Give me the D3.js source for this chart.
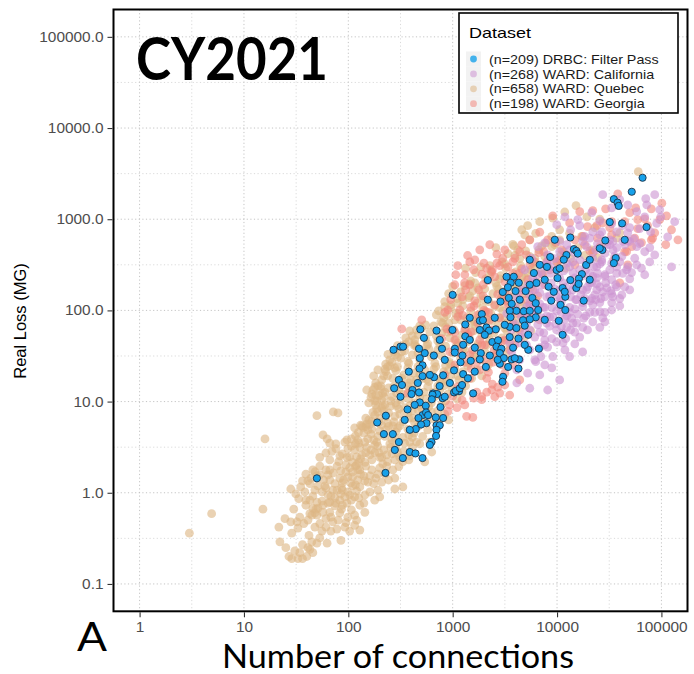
<!DOCTYPE html>
<html>
<head>
<meta charset="utf-8">
<script src="https://cdn.jsdelivr.net/npm/d3@7"></script>
<style>
  body { margin: 0; background: #fff; }
  svg { display: block; }
</style>
</head>
<body>
<svg id="chart" width="694" height="674"></svg>
<script>
// [number of connections, real loss (MG)] for each system, calendar year 2021
const quebec = [
  [3.0,0.36],[21.6,0.42],[22.1,0.29],[28.7,0.36],[28.7,0.19],[32.9,0.19],[36.4,0.19],[40,0.2],[42.8,0.24],[44.7,0.29],
  [50,0.28],[62.6,0.28],[41,0.25],[45.7,0.22],[30.7,0.23],[47.8,0.42],[55.9,0.38],[68,0.38],[103,0.38],[115,0.44],
  [77.7,0.40],[34.3,0.22],[25.2,0.25],[36.4,0.27],[53.3,0.32],[85,0.3],[42,0.34],[32.9,0.41],[61,0.42],[92.6,0.42],
  [129,0.39],[27,0.2],[32.2,0.48],[28.1,0.48],[37.5,0.46],[42.8,0.59],[47.8,0.6],[51.2,0.68],[57.2,0.73],[63.8,0.77],
  [82.9,0.6],[99,0.54],[61,0.52],[50,0.57],[44.7,0.57],[45.7,0.68],[39.2,0.73],[4.9,0.59],[15.2,0.66],[74.3,0.72],
  [71,0.48],[87.6,0.73],[107,0.65],[120,0.5],[34.3,0.54],[24.7,0.52],[53.3,0.46],[80,0.5],[66.5,0.61],[144,0.61],
  [95,0.47],[57,0.61],[30,0.66],[129,0.73],[41,0.5],[86,0.66],[48.9,0.66],[68,0.54],[115,0.57],[31.4,0.97],
  [33.5,0.86],[50,0.79],[56,0.81],[45.7,0.92],[66.5,0.79],[74.3,0.88],[82.9,0.83],[92.6,0.9],[103,0.95],[115,0.9],
  [87.6,1.07],[71,1.07],[78,1.07],[97,0.77],[86,1.13],[129,1.16],[126,0.88],[38.3,1.02],[61,1.13],[51,1.19],
  [144,0.95],[161,1.02],[179,0.83],[110,1.19],[42.8,0.83],[63.8,0.95],[56,1.02],[35,1.16],[333,1.16],[99,1.02],
  [76,0.77],[141,0.77],[47.8,1.07],[120,1.05],[68,0.92],[192,1.07],[84.6,0.97],[39.2,0.83],[279,1.1],[107,0.83],
  [59.6,1.19],[200,0.9],[28.1,1.1],[117,1.22],[36.4,1.35],[41,1.35],[43.8,1.45],[50,1.53],[48,1.7],[53.3,1.57],
  [61,1.78],[66.5,1.38],[94.7,1.69],[110,1.49],[123,1.38],[99,1.49],[87.6,1.28],[129,1.78],[141,1.53],[154,1.31],
  [168,1.78],[183,1.45],[200,1.87],[224,1.6],[243,1.38],[267,1.78],[78,1.96],[71.8,1.65],[58,1.38],[45.7,1.78],
  [117,1.96],[147,1.96],[82.9,1.45],[105,1.28],[39.2,1.6],[175,1.26],[131,1.6],[74.3,1.26],[63.8,1.57],[279,1.45],
  [209,1.31],[161,1.53],[103,1.87],[90,1.38],[53.3,1.96],[305,1.94],[123,1.78],[192,1.6],[233,1.96],[66.5,1.78],
  [110,1.69],[144,1.35],[42.8,1.26],[84.6,1.74],[61,2.73],[69.7,2.85],[103,2.47],[120,2.47],[94.7,2.02],[110,2.15],
  [99,3.05],[126,2.15],[81,2.2],[135,2.6],[150,3.15],[168,2.29],[179,2.76],[200,2.45],[219,2.95],[238,2.2],
  [262,2.67],[285,3.15],[311,2.45],[340,2.85],[380,2.29],[53.3,2.45],[87.6,2.67],[66.5,2.29],[144,2.15],[192,3.25],
  [115,2.95],[214,2.07],[161,2.6],[129,3.15],[279,2.29],[233,2.6],[296,2.76],[410,3.15],[131,2.35],[76,3.05],
  [165,2.95],[97,2.45],[196,2.76],[255,3.15],[120,2.02],[147,2.76],[333,2.2],[83,2.54],[209,2.45],[107,3.25],
  [388,2.54],[630,2.8],[540,2.18],[15.9,3.89],[62.6,3.89],[76,3.43],[57.2,4.31],[125,4.6],[97,3.8],[117,4.2],
  [123,3.8],[147,5.3],[126,3.5],[141,4.5],[154,3.89],[168,5.0],[187,3.59],[200,4.76],[224,4.16],[243,5.35],
  [262,3.8],[285,4.64],[311,5.4],[333,4.05],[372,5.0],[388,3.6],[425,4.5],[465,5.35],[516,4.16],[577,4.89],
  [603,3.6],[179,3.35],[115,5.15],[144,3.6],[209,5.55],[250,3.43],[165,4.4],[92.6,3.6],[135,5.4],[279,4.05],
  [347,3.5],[228,4.89],[66.5,3.5],[107,3.89],[296,5.15],[410,4.05],[192,4.16],[154,4.89],[267,5.4],[380,4.31],
  [484,3.43],[117,3.43],[138,5.2],[175,3.8],[450,3.6],[71.8,7.7],[79.6,7.5],[168,6.1],[192,7.7],[147,6.6],
  [179,7.1],[209,8.5],[157,6.3],[172,7.6],[183,9.2],[200,6.6],[219,7.9],[238,5.8],[255,8.9],[279,6.9],
  [305,8.3],[333,6.0],[372,7.5],[388,9.0],[421,6.6],[465,8.1],[505,5.8],[540,7.3],[590,8.8],[659,6.4],
  [720,7.9],[785,9.2],[840,7.3],[915,6.3],[150,5.65],[187,8.3],[228,6.8],[273,6.0],[347,8.6],[484,9.2],
  [431,5.9],[196,5.9],[161,5.65],[224,9.2],[131,5.5],[290,9.0],[380,6.6],[625,7.7],[560,6.3],[243,7.5],
  [50,7.0],[214,9.0],[311,7.3],[410,7.9],[505,8.4],[752,6.6],[165,11.1],[187,10.2],[172,13.4],[196,11.6],
  [179,14.4],[157,9.7],[168,12.1],[183,11.8],[192,14.9],[209,10.4],[224,12.7],[243,14.1],[262,11.3],[285,9.7],
  [305,13.4],[333,12.1],[372,14.9],[380,10.7],[410,13.1],[450,14.9],[484,11.1],[530,12.7],[577,14.6],[625,9.7],
  [674,11.3],[752,13.4],[822,14.9],[898,12.1],[980,14.1],[1100,10.7],[1230,12.7],[1330,14.9],[214,12.4],[255,10.2],
  [150,13.4],[179,10.2],[219,11.3],[273,14.6],[318,10.4],[431,9.7],[476,12.4],[560,10.7],[720,14.9],[855,10.2],
  [1048,12.7],[205,13.9],[290,12.4],[388,13.4],[649,12.7],[183,16.0],[219,19.1],[205,14.9],[238,24.2],[175,19.1],
  [192,22.3],[209,17.3],[228,21.3],[250,24.6],[267,18.0],[285,21.8],[311,16.0],[340,19.6],[372,23.4],[395,17.3],
  [425,20.5],[465,24.2],[516,18.0],[540,22.3],[590,16.6],[630,19.6],[689,24.2],[752,17.6],[822,21.3],[880,16.6],
  [958,19.1],[1048,23.4],[1145,17.3],[1250,21.3],[1390,24.8],[1520,18.0],[1700,22.3],[1900,19.1],[2120,23.4],[238,19.1],
  [296,24.2],[380,16.0],[484,20.0],[565,17.6],[659,22.7],[785,16.9],[915,22.3],[1120,19.1],[224,22.7],[325,18.0],
  [450,17.3],[855,24.8],[1330,17.3],[262,27],[296,30.8],[228,25.8],[325,35],[355,42.7],[250,28.7],[273,35.0],
  [296,41.0],[318,30.0],[347,36.0],[380,26.4],[410,32.5],[450,40.0],[484,28.7],[530,35.0],[565,41.0],[625,31.0],
  [674,26.4],[720,36.9],[785,31.7],[855,40.6],[915,27.5],[1000,34.0],[1100,41.0],[1190,30.0],[1306,36.9],[1430,26.4],
  [1560,32.5],[1700,40.0],[1860,28.7],[2030,35.0],[2220,25.8],[2430,31.0],[2650,38.0],[2900,27.5],[3220,33.3],[3520,40.6],
  [279,23.4],[240,33],[285,32.5],[372,27.5],[465,34.0],[590,37.8],[752,41.9],[958,25.8],[1250,37.8],[1628,31.0],
  [2120,41.9],[431,41.0],[659,32.5],[380,45.4],[410,52.5],[340,41.9],[433,47.5],[484,67.5],[355,50.0],[388,59.6],
  [431,43.0],[465,53.9],[505,63.8],[550,48.8],[604,58.0],[659,67.5],[720,46.3],[785,56.6],[855,66.0],[938,50.0],
  [1025,61.2],[1120,44.0],[1230,53.9],[1330,63.8],[1458,48.8],[1590,59.6],[1740,43.0],[1900,52.5],[2070,62.6],[2267,47.5],
  [2480,56.6],[2700,67.5],[2960,50.0],[3300,59.6],[3600,45.4],[4050,53.9],[4390,63.8],[4900,51.2],[5600,59.6],[550,69.5],
  [577,43.0],[898,57.8],[1390,45.4],[2170,55.0],[3156,63.8],[450,61.2],[697,52.7],[1070,47.5],[1660,67.5],[770,75],
  [822,83],[915,72.5],[1070,93],[697,89.4],[1190,78.8],[1818,83],[2370,77],[3156,81],[735,99],[800,72.5],
  [880,89.4],[958,107],[1048,78.8],[1145,93],[1250,112],[1360,83],[1490,99],[1628,75],[1780,89.4],[1940,107],
  [2120,78.8],[2320,93],[2530,112],[2760,83],[3020,99],[3300,72.5],[3600,87],[3935,104],[4300,78.8],[4810,93],
  [5230,112],[5850,83],[6540,99],[3770,75],[840,110],[2030,93],[4390,112],[1520,81],[1458,72.5],[2826,107],
  [958,115],[1120,120],[1458,144],[1740,176],[1990,131],[840,125],[915,153],[1000,183],[1100,135],[1190,160],
  [1306,187],[1430,138],[1560,164],[1700,120],[1860,144],[2030,172],[2220,125],[2430,153],[2650,183],[2900,135],
  [3156,160],[3450,118],[3770,141],[4120,168],[4480,125],[5000,153],[5600,179],[6250,131],[3600,185],[1250,131],
  [2760,172],[4650,187],[2960,144],[1628,200],[2267,240],[2826,222],[4590,233],[1330,290],[1490,210],[1660,260],
  [1860,300],[2070,222],[2320,271],[2590,200],[2900,240],[3220,290],[3600,217],[4020,265],[4480,309],[5000,227],
  [5600,279],[6390,205],[7130,253],[8130,300],[12100,290],[5230,260],[1458,195],[2267,309],[3935,200],[6117,279],
  [3156,323],[3935,400],[6117,373],[7130,510],[2590,488],[2960,340],[3380,420],[3860,510],[4390,370],[5000,450],
  [5850,330],[6690,462],[7630,390],[8900,500],[10100,340],[11600,440],[13500,370],[15800,488],[18400,400],[21500,462],
  [24400,380],[9509,525],[5478,390],[10900,407],[4200,462],[4906,675],[10600,766],[3770,530],[4590,766],[5478,595],
  [6250,700],[7800,545],[8900,650],[10600,595],[13200,700],[17200,650],[23000,810],[29200,560],[37200,620],[39900,710],
  [6830,940],[9100,1030],[11856,1200],[15200,1410],[19300,1060],[25660,1000],[60000,3320],[5230,850]
];

const california = [
  [27400,1860],[33400,1330],[39900,1640],[47600,1440],[70800,1680],[72400,1440],[96400,1270],[58000,1210],[21500,1180],[86300,1860],
  [15800,990],[9930,870],[22000,725],[26800,725],[37300,725],[47600,710],[90100,900],[62000,790],[49700,810],[20600,620],
  [25700,675],[18400,650],[115000,640],[134000,940],[32000,595],[54300,610],[11900,1060],[69200,1060],[42400,850],[33400,890],
  [13500,766],[16500,850],[78900,725],[98600,1060],[25700,960],
  [6530,500],[30000,525],[34300,570],[37300,488],[44500,525],[47600,580],[58000,500],[41800,390],[32000,525],[42600,570],
  [49700,570],[34300,462],[22000,373],[26800,359],[16500,359],[17600,570],[23500,462],[10600,440],[8130,407],[7630,550],
  [12400,525],[86300,407],[69200,440],[62000,540],[77300,488],[14800,420],[19200,500],[28700,424],[10600,570],[5700,373],
  [9500,370],[35700,395],[55500,373],[24400,540],[13200,462],
  [12400,330],[14200,260],[20600,255],[24000,227],[28700,246],[33400,217],[37300,255],[19200,330],[22500,303],[26800,340],
  [33400,330],[58000,316],[64400,290],[51800,260],[42600,255],[46400,279],[28700,236],[24400,255],[22000,236],[37300,300],
  [47600,300],[24000,300],[8700,255],[7100,260],[5850,227],[13200,300],[14200,340],[16500,279],[8700,300],[10600,227],
  [7630,316],[6530,246],[17600,240],[32000,279],[39900,340],[69200,246],[77300,340],[125000,300],[49700,222],[11600,271],
  [18800,279],[25700,323],[4900,279],[14800,227],[8130,340],
  [6120,168],[7130,191],[7960,141],[9900,141],[10600,168],[14200,168],[17600,168],[20600,200],[25700,181],[30000,176],
  [37300,181],[23000,148],[28700,141],[34300,141],[19200,168],[24000,168],[21500,135],[32700,164],[36500,191],[44500,181],
  [15400,131],[12400,157],[4390,131],[5480,148],[4650,168],[4100,141],[8800,200],[11400,200],[15400,195],[21500,200],
  [29200,200],[49700,168],[41800,148],[26300,135],[18400,135],[9500,172],[6830,157],[5250,191],[13500,141],[16900,148],
  [24000,195],[33400,153],[12100,181],[8500,144],[19600,181],[27400,160],[39900,135],[14500,187],[10800,135],[6120,205],
  [15100,131],[13200,108],[11000,95],[9100,85],[7960,87],[13800,82],[15800,91],[17600,110],[20600,95],[18000,82],
  [12400,87],[8500,85],[7630,108],[6830,118],[5480,122],[5100,108],[4550,85],[5850,89],[6390,101],[7330,108],
  [8900,107],[22000,115],[25700,97],[28700,95],[23000,95],[33400,101],[25700,122],[20600,127],[23500,131],[17600,122],
  [10600,115],[3300,93],[4000,107],[11000,125],[14800,104],[9900,99],[39900,112],[18800,87],[11900,80],[7130,83],
  [5000,95],[33400,122],[27400,83],[13200,95],[5850,107],
  [7960,72.5],[15400,72.5],[17600,65],[14200,72.5],[12400,65],[9900,61],[8900,49],[14800,57.7],[11400,56.6],[7460,56.6],
  [5480,61],[5100,72.5],[3670,61],[4390,51],[6120,51],[6830,57.7],[9700,71],[22000,75],[19600,61],[25700,65],
  [12100,49],[8500,67],[16500,51],[3940,71],[4900,56.6],[7630,47.5],[6530,69.5],[13500,61],[11000,67],[28700,75],
  [8130,39.6],[9900,45],[7630,41.9],[7000,31.2],[5480,36.9],[4390,44],[6120,28.7],[4390,28.7],[11900,36.9],[14800,43],
  [17600,35],[9100,31.2],[3670,35],[5100,41.9],[11400,44],[6830,39],[13200,31.2],[3520,44],
  [4120,22.3],[5230,20.5],[7630,25.3],[4120,16],[6830,19.6],[8900,23.4],[10600,17.3],[5480,14],[8130,13.4],[6250,27.4]
];

const georgia = [
  [38200,1900],[56700,1330],[80000,1300],[22000,1240],[29200,1300],[19600,830],[24000,850],[27400,910],[59300,990],[69200,1010],
  [59300,790],[86300,710],[82300,620],[46400,440],[7460,440],[11100,462],[11900,407],[20600,450],[44500,440],[64400,555],
  [80000,595],[47600,316],[39900,200],[22000,430],[101000,1500],[125000,766],[16500,1210],[9100,1090],[13200,910],[33400,675],
  [14800,595],[9700,555],[55500,620],[25700,500],[110000,525],[33400,940],[6830,720],[17600,650],[96400,990],[49700,1180],
  [2826,309],[3380,300],[3770,255],[4300,255],[4590,285],[6690,430],[2530,233],[2370,265],[1630,127],[1490,108],
  [2070,97],[2200,95],[505,78.8],[325,62.6],[880,62.6],[1630,359],[1990,330],[1458,191],[1780,168],[1230,141],
  [1048,191],[3156,205],[5230,217],[6120,340],[3935,373],[2650,415],[1306,246],[1950,144],[2530,115],[3380,148],
  [4390,160],[5480,115],[2826,83],[1740,72.5],[1120,85.5],[840,95],[1600,112],[958,131],[1170,101],[1250,88],
  [960,60],[785,49],[1048,57.8],[1390,52.7],[1818,47.5],[2370,61],[3156,47.5],[3770,69.5],[4906,83],[6530,144],
  [7630,191],[8516,279],[9900,340],[5480,316],[2170,212],[1590,279],[1120,309],[1900,250],[2700,150],[3300,128],
  [2000,100],[1500,58],[1400,55],[1900,42],[938,35],[1230,41.9],[1560,36.9],[2030,41.9],[2590,32.5],[3520,36.9],
  [4390,61],[3020,131],[1950,191],[1330,168],[1300,200],[2400,280],[1390,400],[2267,525],[3156,462],[4590,525],
  [5478,595],[8130,595],[5100,407],[3770,340],[7300,246],
  [2430,27],[2700,14.4],[2826,12.4],[2120,12.7],[2370,13.4],[1900,11.3],[1700,12.7],[1120,14.6],[3156,20.5],[2960,25.3],
  [1360,6.9],[1560,6.7],[372,12.4],[1458,18],[1048,25.3],[2200,21],[1500,23],[1300,27],[1818,22.3],[2120,18],
  [3770,25.3],[4390,17.3],[938,9.2],[1230,10.4],[2530,11.3],[3520,11.8],[2400,15.5],[1000,11.5],[1590,10.9],[1306,9.2],
  [900,7.8],[1100,8.6],[1900,10.5],[3156,15.2],[1458,32.5],[2267,78.8],[1306,61],[4120,93],[2700,41.9],[1048,47.5],
  [1700,27],
  [1458,340],[2120,290],[3020,373],[4120,217],[5850,168],[7960,340],[10600,359],[14800,316],[18400,525],[24400,620],
  [32000,810],[44500,940],[73700,850],[112000,1090],[144000,595],[35000,359],[52000,500],[4390,440],[1818,462],[2650,330],
  [1070,246],[898,101],[1740,89.4],[3380,115],[5000,131],[1170,34],[2030,28.7],[2500,37],[3000,46],[840,19.6],
  [3935,41.9],[6830,78.8]
];

const drbc = [
  [66000,2850],[52000,2000],[35000,1660],[38000,1520],[39000,1400],[32000,930],[42000,900],[72000,820],[13400,630],[29000,585],
  [27200,460],[14500,470],[15300,450],[15800,420],[12300,405],[8600,385],[11600,360],[36500,375],[35000,330],[8000,300],
  [19000,315],[6000,257],[9900,277],[17300,250],[10100,226],[13400,215],[16200,223],[2170,215],[3280,234],[3850,234],
  [4300,201],[6350,200],[3600,201],[8300,182],[9300,160],[11300,176],[15300,176],[16100,195],[1000,148],[3020,159],
  [4000,163],[5000,163],[12000,141],[18000,128],[8800,128],[2870,125],[3450,137],[5800,137],[6250,120],[3680,118],
  [10800,115],[12000,101],[1900,91],[4080,99],[3520,99],[4800,98],[5480,99],[6600,101],[1820,77],[1950,78],
  [3580,84],[6250,84],[5480,80],[4720,78],[10400,77],[1320,70],[2590,62],[2110,65],[3520,66],[4080,64],
  [4900,68],[2230,60],[995,61],[700,60],[5300,54],[11300,54],[3520,51],[4270,49],[1320,52],[2400,45],
  [2720,47],[530,50],[490,62],[1260,42],[1630,39],[2630,40],[2930,38],[3790,39],[5300,37],[6700,38],
  [1050,38],[790,38],[540,34],[660,32],[1860,34],[2270,32],[2830,34],[3090,30],[3660,29],[4330,29],
  [1240,32],[1490,28],[1820,29],[1190,27],[514,25],[2830,26],[3400,24],[4270,23],[2080,24],[1030,22],
  [1260,20],[1400,18],[514,19],[664,18.5],[810,19.4],[3040,18.7],[3000,16.5],[940,16],[750,14.8],[1030,12.6],
  [1150,13],[1570,12.3],[650,12.3],[710,12.1],[484,9.8],[800,10.9],[552,9.0],[764,8.7],[514,7.1],[810,6.6],
  [700,5.5],[752,5.5],[561,5.8],[271,37],[316,40],[335,40],[476,38],[481,23],[305,17.3],[327,15.2],
  [463,16],[275,14],[412,13.4],[476,12.6],[403,12.1],[316,11.3],[641,11.9],[840,11.3],[1070,13.1],[1170,14],
  [631,10.6],[369,8.2],[556,7.6],[581,7.1],[189,5.9],[229,7.0],[470,6.6],[689,6.7],[498,5.6],[443,5.0],
  [388,4.9],[219,4.4],[267,4.4],[700,4.9],[693,4.2],[627,3.6],[305,3.6],[388,2.8],[440,2.7],[514,2.4],
  [333,2.4],[227,1.65],[50,1.44],
  [1048,34.5],[1458,47.5],[1818,61],[2531,83],[3156,69.5],[4394,131],[7627,217],[10600,290],[20600,359],[4906,41.9],
  [1628,21.3],[840,28.7],[604,19.6],[433,9.2],[347,6.3],[279,2.95],[604,3.35],[2170,131],[6830,316],[9509,595],
  [5478,191],[2700,28.7],[1230,15.2],[3380,179],[7627,78.8],[11856,160],[20580,217],[25660,480],[44540,595],[1458,83],
  [752,47.5],[380,21.3],[484,29.9],[3935,29.9],[2030,53.9],[5478,359]
];

const xTicks = [1, 10, 100, 1000, 10000, 100000];
const yTicks = [0.1, 1, 10, 100, 1000, 10000, 100000];

// legend order, with drawing styles per dataset
const series = [
  { label: "DRBC: Filter Pass", data: drbc,       fill: "#17A1EA", opacity: 1,    stroke: "#1c3146" },
  { label: "WARD: California",  data: california, fill: "#CB92D1", opacity: 0.6,  stroke: null },
  { label: "WARD: Quebec",      data: quebec,     fill: "#DDB684", opacity: 0.62, stroke: null },
  { label: "WARD: Georgia",     data: georgia,    fill: "#F2877D", opacity: 0.6,  stroke: null }
];
const drawOrder = [2, 3, 1, 0];

const svg = d3.select("#chart");
const frame = { left: 113.5, right: 687.5, top: 9.5, bottom: 611.3 };

const x = d3.scaleLog().domain([10 ** -0.25, 10 ** 5.25]).range([frame.left, frame.right]);
const y = d3.scaleLog().domain([10 ** -1.3, 10 ** 5.3]).range([frame.bottom, frame.top]);

const axisFont = "'Liberation Sans', Arial, sans-serif";
const titleFont = "Lato, 'Open Sans', sans-serif";

function stretch(sel, k) {
  sel.each(function () {
    const w = this.getComputedTextLength();
    d3.select(this).attr("textLength", w * k).attr("lengthAdjust", "spacingAndGlyphs");
  });
}

// grid: decades plus half-decade minor lines
const xMinor = xTicks.slice(0, -1).map(v => v * Math.sqrt(10));
const yMinor = yTicks.slice(0, -1).map(v => v * Math.sqrt(10));
const grid = svg.append("g").attr("fill", "none");
grid.selectAll("line.xminor").data(xMinor).join("line")
  .attr("x1", d => x(d)).attr("x2", d => x(d)).attr("y1", frame.top).attr("y2", frame.bottom)
  .attr("stroke", "#d6d6d6").attr("stroke-width", 0.9).attr("stroke-dasharray", "1.2,2.4");
grid.selectAll("line.yminor").data(yMinor).join("line")
  .attr("y1", d => y(d)).attr("y2", d => y(d)).attr("x1", frame.left).attr("x2", frame.right)
  .attr("stroke", "#d6d6d6").attr("stroke-width", 0.9).attr("stroke-dasharray", "1.2,2.4");
grid.selectAll("line.xmajor").data(xTicks).join("line")
  .attr("x1", d => x(d)).attr("x2", d => x(d)).attr("y1", frame.top).attr("y2", frame.bottom)
  .attr("stroke", "#c4c4c4").attr("stroke-width", 1).attr("stroke-dasharray", "1.2,2.4");
grid.selectAll("line.ymajor").data(yTicks).join("line")
  .attr("y1", d => y(d)).attr("y2", d => y(d)).attr("x1", frame.left).attr("x2", frame.right)
  .attr("stroke", "#c4c4c4").attr("stroke-width", 1).attr("stroke-dasharray", "1.2,2.4");

// points
const marks = svg.append("g");
drawOrder.forEach(i => {
  const s = series[i];
  marks.append("g").selectAll("circle").data(s.data).join("circle")
    .attr("cx", d => x(d[0]))
    .attr("cy", d => y(d[1]))
    .attr("r", s.stroke ? 3.6 : 4.4)
    .attr("fill", s.fill)
    .attr("fill-opacity", s.opacity)
    .attr("stroke", s.stroke || "none")
    .attr("stroke-width", s.stroke ? 0.9 : 0);
});

// panel border
svg.append("rect")
  .attr("x", frame.left).attr("y", frame.top)
  .attr("width", frame.right - frame.left).attr("height", frame.bottom - frame.top)
  .attr("fill", "none").attr("stroke", "#000").attr("stroke-width", 2);

// axes
const xAxis = svg.append("g").attr("transform", `translate(0,${frame.bottom + 1})`)
  .call(d3.axisBottom(x).tickValues(xTicks).tickFormat(d3.format("d")).tickSize(5).tickPadding(5));
const yAxis = svg.append("g").attr("transform", `translate(${frame.left - 1},0)`)
  .call(d3.axisLeft(y).tickValues(yTicks).tickFormat(d3.format(".1f")).tickSize(5).tickPadding(4));
[xAxis, yAxis].forEach(a => {
  a.select(".domain").remove();
  a.selectAll(".tick line").attr("stroke", "#333").attr("stroke-width", 1.1);
  a.selectAll(".tick text").attr("fill", "#4d4d4d").attr("font-size", 14).attr("font-family", axisFont);
  stretch(a.selectAll(".tick text"), 1.1);
});

// axis titles
svg.append("text")
  .attr("x", 398).attr("y", 668)
  .attr("text-anchor", "middle")
  .attr("font-family", titleFont).attr("font-size", 32)
  .attr("textLength", 352).attr("lengthAdjust", "spacingAndGlyphs")
  .text("Number of connections");

svg.append("text")
  .attr("transform", "translate(26,321) rotate(-90)")
  .attr("text-anchor", "middle")
  .attr("font-family", axisFont).attr("font-size", 16.5)
  .text("Real Loss (MG)");

// year heading and panel letter
svg.append("text")
  .attr("x", 136).attr("y", 80)
  .attr("font-family", titleFont).attr("font-weight", 700).attr("font-size", 60)
  .attr("textLength", 192).attr("lengthAdjust", "spacingAndGlyphs")
  .text("CY2021");

svg.append("text")
  .attr("x", 77).attr("y", 651)
  .attr("font-family", titleFont).attr("font-size", 40)
  .attr("textLength", 30).attr("lengthAdjust", "spacingAndGlyphs")
  .text("A");

// legend
const legend = svg.append("g");
legend.append("rect")
  .attr("x", 459).attr("y", 13).attr("width", 219).attr("height", 100)
  .attr("fill", "#fff").attr("stroke", "#000").attr("stroke-width", 1.6);
legend.append("text")
  .attr("x", 469).attr("y", 38)
  .attr("font-family", axisFont).attr("font-size", 15)
  .attr("textLength", 62).attr("lengthAdjust", "spacingAndGlyphs")
  .text("Dataset");
const rowY = d3.scaleLinear().domain([0, 3]).range([59, 103.7]);
const rows = legend.selectAll("g.row").data(series).join("g")
  .attr("transform", (d, i) => `translate(0,${rowY(i)})`);
rows.append("rect")
  .attr("x", 466).attr("y", -7.5).attr("width", 15).attr("height", 15)
  .attr("fill", "#f2f2f2");
rows.append("circle")
  .attr("cx", 473.5).attr("cy", 0).attr("r", 3.4)
  .attr("fill", d => d.fill)
  .attr("fill-opacity", d => d.stroke ? 0.8 : d.opacity * 0.9);
rows.append("text")
  .attr("x", 489).attr("y", 4.6)
  .attr("font-family", axisFont).attr("font-size", 13).attr("fill", "#1a1a1a")
  .text(d => `(n=${d.data.length}) ${d.label}`);
stretch(rows.selectAll("text"), 1.1);
</script>
</body>
</html>
